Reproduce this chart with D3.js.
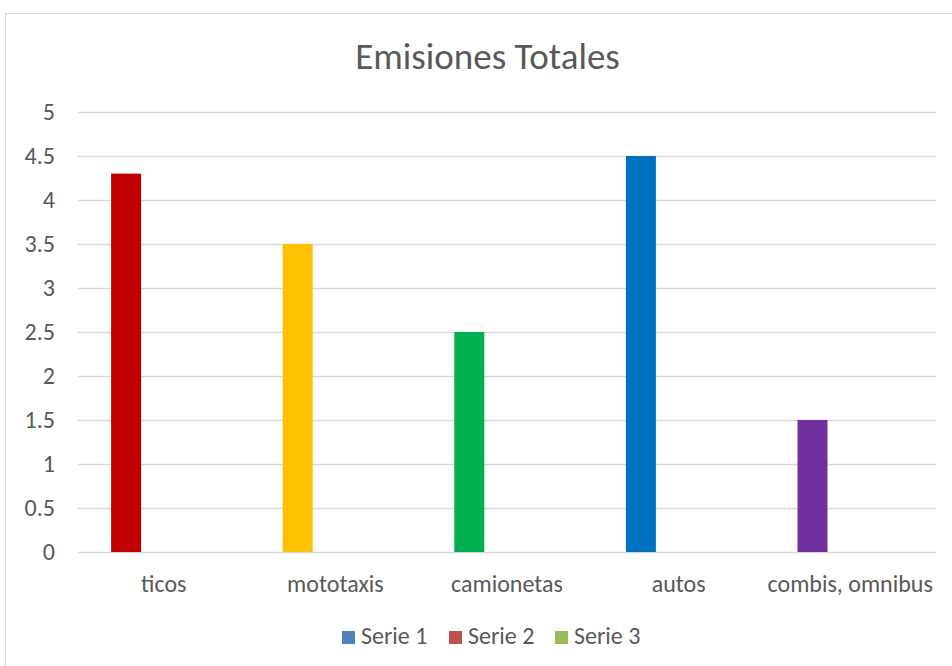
<!DOCTYPE html>
<html>
<head>
<meta charset="utf-8">
<script src="https://cdn.jsdelivr.net/npm/d3@7"></script>
<style>
  html, body { margin: 0; padding: 0; background: #fff; }
  svg { display: block; font-family: Carlito, Calibri, Lato, sans-serif; }
</style>
</head>
<body>
<svg id="chart" width="952" height="666"></svg>
<script>
// Emission totals per vehicle type (Serie 1 only carries values)
const categories = ["ticos", "mototaxis", "camionetas", "autos", "combis, omnibus"];
const seriesNames = ["Serie 1", "Serie 2", "Serie 3"];
const serie1 = [4.3, 3.5, 2.5, 4.5, 1.5];
const serie2 = [null, null, null, null, null];
const serie3 = [null, null, null, null, null];
const pointColors = ["#C00000", "#FFC000", "#00B050", "#0070C0", "#7030A0"];
const seriesColors = ["#4F81BD", "#C0504D", "#9BBB59"];
const yTicks = [0, 0.5, 1, 1.5, 2, 2.5, 3, 3.5, 4, 4.5, 5];

const svg = d3.select("#chart");
const W = 952, H = 666;
const plot = { left: 78, right: 936, top: 112, bottom: 552 };
const textColor = "#595959";
const gridColor = "#D9D9D9";
const labelSize = 24;

// Chart area frame
svg.append("rect")
  .attr("x", 5.5).attr("y", 13.5)
  .attr("width", W).attr("height", H)
  .attr("fill", "#fff").attr("stroke", gridColor).attr("stroke-width", 1);

// Title
svg.append("text")
  .attr("x", 487.5).attr("y", 68.5)
  .attr("text-anchor", "middle")
  .attr("font-size", 37).attr("fill", textColor)
  .text("Emisiones Totales");

const x0 = d3.scaleBand().domain(categories).range([plot.left, plot.right]).padding(0);
const y = d3.scaleLinear().domain([0, 5]).range([plot.bottom, plot.top]);

// Clustered slots within each category
const groupWidth = 105.4;
const x1 = d3.scaleBand().domain(seriesNames).range([0, groupWidth]).paddingInner(0.204).paddingOuter(0);

// Horizontal gridlines and y labels
const yAxis = d3.axisLeft(y).tickValues(yTicks).tickSize(-(plot.right - plot.left)).tickPadding(23)
  .tickFormat(d3.format("~g"));
const gy = svg.append("g").attr("transform", `translate(${plot.left},0)`).call(yAxis);
gy.select(".domain").remove();
gy.selectAll(".tick line").attr("stroke", gridColor).attr("stroke-width", 1.4);
gy.selectAll(".tick text").attr("fill", textColor).attr("font-size", labelSize)
  .attr("font-family", "Carlito, Calibri, Lato, sans-serif");

// Category labels
const xAxis = d3.axisBottom(x0).tickSize(0).tickPadding(23);
const gx = svg.append("g").attr("transform", `translate(0,${plot.bottom})`).call(xAxis);
gx.select(".domain").remove();
gx.selectAll(".tick text").attr("fill", textColor).attr("font-size", labelSize)
  .attr("font-family", "Carlito, Calibri, Lato, sans-serif");

// Bars
const allSeries = [serie1, serie2, serie3];
const groups = svg.append("g").selectAll("g")
  .data(categories)
  .join("g")
  .attr("transform", c => `translate(${x0(c) + x0.bandwidth() / 2 - groupWidth / 2},0)`);

groups.selectAll("rect")
  .data((c, i) => seriesNames.map((s, k) => ({ s, k, i, v: allSeries[k][i] })).filter(d => d.v != null))
  .join("rect")
  .attr("x", d => x1(d.s))
  .attr("width", x1.bandwidth())
  .attr("y", d => y(d.v))
  .attr("height", d => y(0) - y(d.v))
  .attr("fill", d => d.k === 0 ? pointColors[d.i] : seriesColors[d.k]);

// Legend
const legendX = [342, 449, 555];
const legend = svg.append("g").selectAll("g")
  .data(seriesNames)
  .join("g")
  .attr("transform", (d, i) => `translate(${legendX[i]},631)`);
legend.append("rect").attr("width", 13).attr("height", 13)
  .attr("fill", (d, i) => seriesColors[i]);
legend.append("text").attr("x", 19).attr("y", 13)
  .attr("font-size", labelSize).attr("fill", textColor).text(d => d);
</script>
</body>
</html>
